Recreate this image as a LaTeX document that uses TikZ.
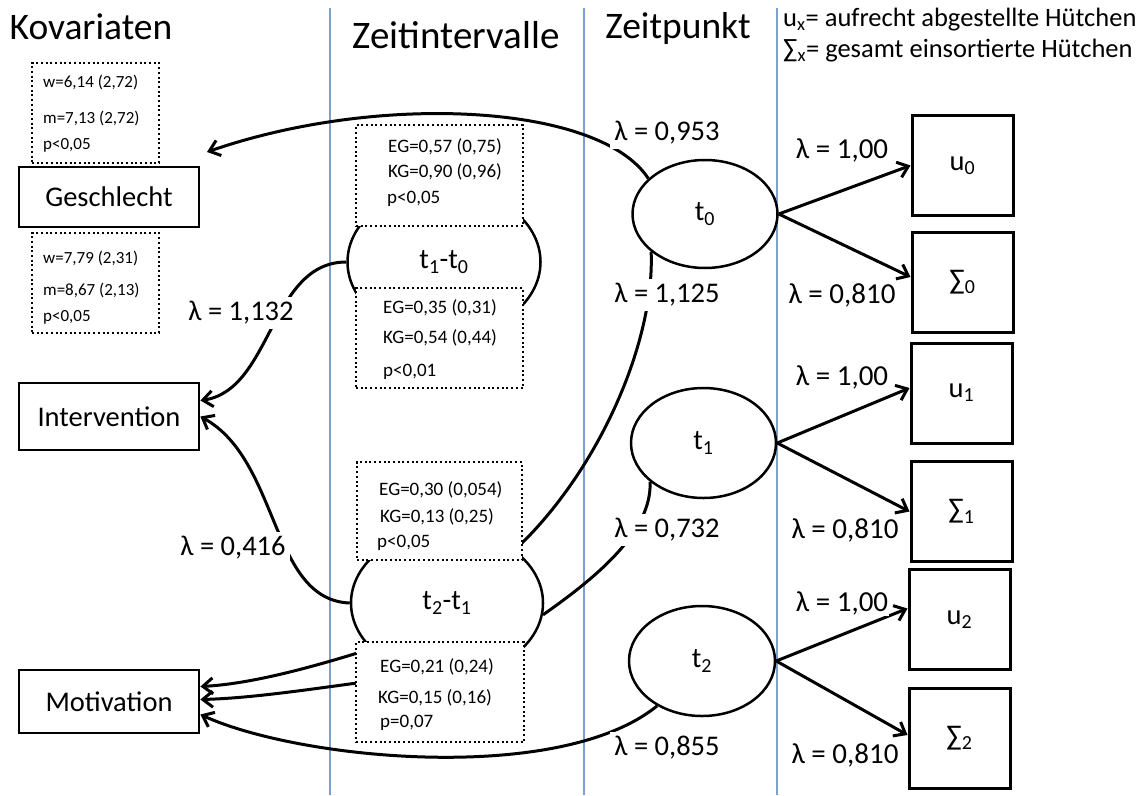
\documentclass[tikz,border=0pt]{standalone}
\usepackage{fontspec}
\setmainfont{Carlito}
\usetikzlibrary{shapes.geometric,arrows.meta}
\definecolor{vline}{RGB}{125,160,210}
\newcommand\szTitle{\fontsize{37.5}{42}\selectfont}
\newcommand\szTitleB{\fontsize{39}{44}\selectfont}
\newcommand\szLam{\fontsize{28.5}{32}\selectfont}
\newcommand\szLamR{\fontsize{29}{32}\selectfont}
\newcommand\szBox{\fontsize{28.5}{32}\selectfont}
\newcommand\szStat{\fontsize{17}{20}\selectfont}
\newcommand\szStatM{\fontsize{19}{22}\selectfont}
\newcommand\szLeg{\fontsize{26.5}{30}\selectfont}
\begin{document}
\begin{tikzpicture}[x=1pt,y=-1pt,
  ell/.style={ellipse,draw,line width=2.5pt,inner sep=0pt,fill=white,font=\szBox},
  lbox/.style={draw,line width=2.8pt,minimum width=180pt,inner sep=0pt,font=\szBox},
  rbox/.style={draw,line width=3pt,minimum width=101pt,minimum height=100pt,inner sep=0pt,font=\szBox},
  dbox/.style={draw,fill=white,line width=2pt,dash pattern=on 2pt off 2.7pt,inner sep=0pt},
  stat/.style={anchor=west,inner sep=0pt,font=\szStat},
  statm/.style={anchor=west,inner sep=0pt,font=\szStatM},
  lam/.style={fill=white,inner sep=4pt,font=\szLam},
  lamr/.style={fill=white,inner sep=1pt,font=\szLamR},
  conn/.style={line width=3pt},
  arr/.style={conn,-{Straight Barb[length=10pt,width=16pt]}},
  sep/.style={vline,line width=1.2pt}]
\useasboundingbox (0,0) rectangle (1145,795);
% column separators
\draw[sep] (330,8) -- (330,795);
\draw[sep] (584,8) -- (584,795);
\draw[sep] (777,8) -- (777,795);
% titles
\node[font=\szTitle,inner sep=0pt] (tkov) at (91,27) {Kovariaten};
\node[font=\szTitleB,inner sep=0pt] (tzei) at (456,35) {Zeitintervalle};
\node[font=\szTitle,inner sep=0pt] (tzpk) at (678,29) {Zeitpunkt};
\node[font=\szLeg,anchor=west,inner sep=0pt] (leg1) at (783,20) {u\textsubscript{x}= aufrecht abgestellte Hütchen};
\node[font=\szLeg,anchor=west,inner sep=0pt] (leg2) at (783,51) {∑\textsubscript{x}= gesamt einsortierte Hütchen};
% left boxes
\node[lbox,minimum height=60pt] (ges) at (109,197) {Geschlecht};
\node[lbox,minimum height=67pt] (int) at (109,416.5) {Intervention};
\node[lbox,minimum height=63pt] (mot) at (109,701.5) {Motivation};
% ellipses
\node[ell,minimum width=193pt,minimum height=148pt] (t10) at (444,262) {t\textsubscript{1}-t\textsubscript{0}};
\node[ell,minimum width=192pt,minimum height=146pt] (t21) at (447,603) {t\textsubscript{2}-t\textsubscript{1}};
\node[ell,minimum width=145pt,minimum height=108pt] (t0) at (705,214) {t\textsubscript{0}};
\node[ell,minimum width=145pt,minimum height=110pt] (t1) at (703.5,443) {t\textsubscript{1}};
\node[ell,minimum width=146pt,minimum height=110pt] (t2) at (702,661) {t\textsubscript{2}};
% right boxes
\node[rbox] (u0) at (962.5,165.5) {u\textsubscript{0}};
\node[rbox] (s0) at (962.5,282) {∑\textsubscript{0}};
\node[rbox] (u1) at (961.5,393) {u\textsubscript{1}};
\node[rbox] (s1) at (961.5,511.5) {∑\textsubscript{1}};
\node[rbox] (u2) at (959.5,619.5) {u\textsubscript{2}};
\node[rbox] (s2) at (959.5,738) {∑\textsubscript{2}};
% free end of the Geschlecht arrow
\coordinate (gend) at (207,152);
% connectors
\draw[arr] (t0.148) .. controls (600,104) and (380,92) .. (gend);
\draw[conn] (t0.215) .. controls (655,340) and (600,470) .. (t21.38);
\draw[conn] (t1.216) .. controls (652,530) and (600,575) .. (t21.-7);
\draw[arr] (t2.225) .. controls (560,785) and (300,760) .. ([yshift=-13pt]mot.east);
\draw[arr] (t10.west) .. controls (270,262) and (272,390) .. ([yshift=16pt]int.east);
\draw[arr] (t21.west) .. controls (270,600) and (280,460) .. (int.east);
\draw[arr] (t21.211) .. controls (310,668) and (250,684) .. ([yshift=15pt]mot.east);
\draw[arr] (t21.250) .. controls (330,686) and (260,698) .. ([yshift=2pt]mot.east);
\draw[arr] (t0.east) -- (u0.west);
\draw[arr] (t0.east) -- ([yshift=5pt]s0.west);
\draw[arr] (t1.east) -- ([yshift=5pt]u1.west);
\draw[arr] (t1.east) -- (s1.west);
\draw[arr] (t2.east) -- ([yshift=11pt]u2.west);
\draw[arr] (t2.east) -- ([yshift=3pt]s2.west);
% dotted statistics boxes
\node[dbox,minimum width=127pt,minimum height=100pt] (kb1) at (95.5,113) {};
\node[dbox,minimum width=127pt,minimum height=100pt] (kb2) at (95.5,283) {};
\node[dbox,minimum width=167pt,minimum height=101pt] (ba) at (439.5,175.5) {};
\node[dbox,minimum width=167pt,minimum height=100pt] (bb) at (439.5,338) {};
\node[dbox,minimum width=165pt,minimum height=98pt] (bc) at (439.5,511) {};
\node[dbox,minimum width=168pt,minimum height=100pt] (bd) at (440,692) {};
\node[stat] (kb1a) at (43,82) {w=6,14 (2,72)};
\node[stat] (kb1b) at (43,118) {m=7,13 (2,72)};
\node[stat] (kb1c) at (43,145) {p<0,05};
\node[stat] (kb2a) at (43,258) {w=7,79 (2,31)};
\node[stat] (kb2b) at (43,290) {m=8,67 (2,13)};
\node[stat] (kb2c) at (43,317) {p<0,05};
\node[statm] (baa) at (388,147) {EG=0,57 (0,75)};
\node[statm] (bab) at (388,172) {KG=0,90 (0,96)};
\node[statm] (bac) at (387,199) {p<0,05};
\node[statm] (bba) at (383,308) {EG=0,35 (0,31)};
\node[statm] (bbb) at (383,338) {KG=0,54 (0,44)};
\node[statm] (bbc) at (383,372) {p<0,01};
\node[statm] (bca) at (379,490) {EG=0,30 (0,054)};
\node[statm] (bcb) at (380,517) {KG=0,13 (0,25)};
\node[statm] (bcc) at (377,543) {p<0,05};
\node[statm] (bda) at (380,667) {EG=0,21 (0,24)};
\node[statm] (bdb) at (378,698) {KG=0,15 (0,16)};
\node[statm] (bdc) at (380,723) {p=0,07};
% loadings
\node[lam] (l953) at (667,133) {λ = 0,953};
\node[lam] (l1125) at (667,295) {λ = 1,125};
\node[lam] (l732) at (667,530) {λ = 0,732};
\node[lam] (l855) at (667,748) {λ = 0,855};
\node[lam] (l1132) at (241,313) {λ = 1,132};
\node[lam] (l416) at (233,548) {λ = 0,416};
\node[lamr] (lu0) at (842,150) {λ = 1,00};
\node[lamr] (ls0) at (842,295) {λ = 0,810};
\node[lamr] (lu1) at (842,377) {λ = 1,00};
\node[lamr] (ls1) at (845,530) {λ = 0,810};
\node[lamr] (lu2) at (842,603) {λ = 1,00};
\node[lamr] (ls2) at (845,755) {λ = 0,810};
\end{tikzpicture}
\end{document}
